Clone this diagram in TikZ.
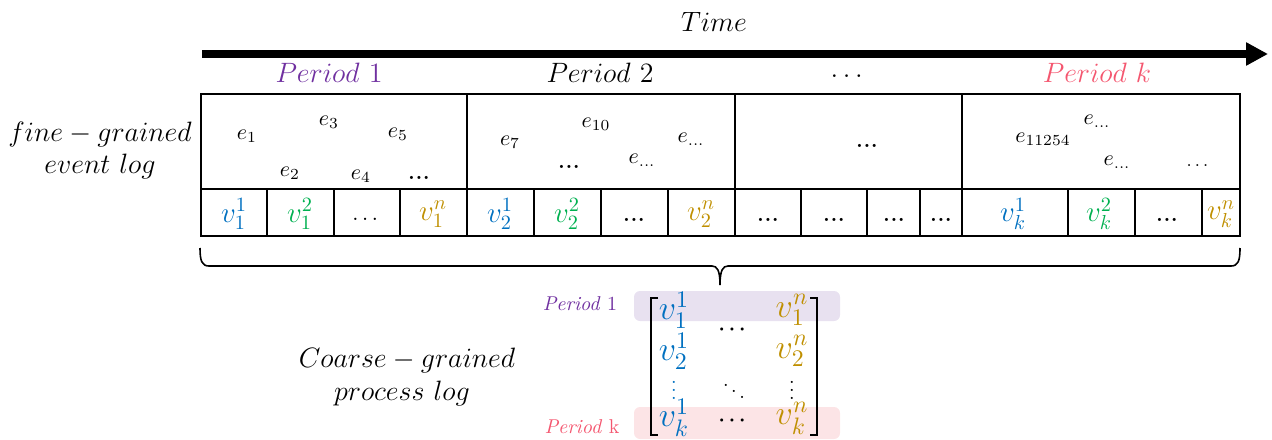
\RequirePackage{fix-cm}
\documentclass[tikz,border=0pt]{standalone}
\usepackage{amsmath}
\usetikzlibrary{arrows.meta}
\definecolor{cblue}{HTML}{0070C0}
\definecolor{cgreen}{HTML}{00B050}
\definecolor{cgold}{HTML}{BF8F00}
\definecolor{cpurple}{HTML}{7030A0}
\definecolor{cpink}{HTML}{F4566F}
\definecolor{hlpurple}{HTML}{E8E1F0}
\definecolor{hlpink}{HTML}{FCE4E6}
\newcommand{\bdots}{{\fontsize{10}{12}\selectfont\bfseries .\kern0.5pt.\kern0.5pt.}}
\begin{document}
\begin{tikzpicture}[x=0.5pt,y=-0.5pt,
  big/.style={inner sep=0pt,font=\fontsize{14}{16}\selectfont},
  ev/.style={inner sep=0pt,font=\fontsize{11}{13}\selectfont},
  vv/.style={inner sep=0pt,font=\fontsize{14.5}{16}\selectfont},
  mv/.style={inner sep=0pt,font=\fontsize{17}{19}\selectfont},
  md/.style={inner sep=0pt,font=\fontsize{10}{12}\selectfont},
  small/.style={inner sep=0pt,font=\fontsize{10}{12}\selectfont},
  grid/.style={line width=1pt},
  brk/.style={line width=1.4pt}]
\useasboundingbox (0,0) rectangle (1272,439);

% time arrow
\coordinate (ta) at (202,54);
\coordinate (tb) at (1268,54);
\draw[line width=3.8pt,-{Triangle[length=11pt,width=11pt]}] (ta) -- (tb);
\node[big] (time) at (714,22) {$Time$};

% period labels
\node[big,text=cpurple] (p1) at (329,73) {$Period\ 1$};
\node[big] (p2) at (600,73) {$Period\ 2$};
\node[big] (pdots) at (849,76) {$\dots$};
\node[big,text=cpink] (pk) at (1097,73) {$Period\ k$};

% left labels
\node[big] (fg1) at (100,134) {$fine-grained$};
\node[big] (fg2) at (100,166) {$event\ log$};

% table
\coordinate (TL) at (201,94);
\coordinate (BR) at (1240,236);
\draw[grid] (TL) rectangle (BR);
\draw[grid] (201,189) -- (1240,189);
\foreach \x in {467,735,962} \draw[grid] (\x,94) -- (\x,236);
\foreach \x in {267,334,400,534,601,668,801,867,920,1068,1135,1202} \draw[grid] (\x,189) -- (\x,236);

% events
\node[ev] (e1) at (247,136) {$e_1$};
\node[ev] (e3) at (329,122) {$e_3$};
\node[ev] (e5) at (398,134) {$e_5$};
\node[ev] (e2) at (290,173) {$e_2$};
\node[ev] (e4) at (361,176) {$e_4$};
\node[ev] (ed1) at (419,178) {\bdots};
\node[ev] (e7) at (510,142) {$e_7$};
\node[ev] (e10) at (596,124) {$e_{10}$};
\node[ev] (ed2) at (569,167) {\bdots};
\node[ev] (ex1) at (642,160) {$e_{\dots}$};
\node[ev] (ex2) at (691,139) {$e_{\dots}$};
\node[ev] (ed3) at (867,146) {\bdots};
\node[ev] (e11254) at (1043,139) {$e_{11254}$};
\node[ev] (ex3) at (1097,121) {$e_{\dots}$};
\node[ev] (ex4) at (1117,162) {$e_{\dots}$};
\node[ev,font=\fontsize{9}{11}\selectfont] (ed4) at (1199,166) {$\dots$};

% bottom row
\node[vv,text=cblue] (a1) at (234,214) {$v_1^1$};
\node[vv,text=cgreen] (a2) at (300,214) {$v_1^2$};
\node[vv,font=\fontsize{11}{13}\selectfont] (a3) at (367,219) {$\dots$};
\node[vv,text=cgold] (a4) at (433,214) {$v_1^n$};
\node[vv,text=cblue] (b1) at (500,214) {$v_2^1$};
\node[vv,text=cgreen] (b2) at (567,214) {$v_2^2$};
\node[vv] (b3) at (634,220) {\bdots};
\node[vv,text=cgold] (b4) at (701,214) {$v_2^n$};
\node[vv] (c1) at (768,220) {\bdots};
\node[vv] (c2) at (834,220) {\bdots};
\node[vv] (c3) at (894,220) {\bdots};
\node[vv] (c4) at (941,220) {\bdots};
\node[vv,text=cblue] (k1) at (1013,214) {$v_k^1$};
\node[vv,text=cgreen] (k2) at (1099,214) {$v_k^2$};
\node[vv] (k3) at (1167,220) {\bdots};
\node[vv,text=cgold] (k4) at (1221,214) {$v_k^n$};

% brace
\coordinate (brL) at (200,248);
\coordinate (brTip) at (720,285);
\coordinate (brR) at (1240,248);
\draw[line width=0.8pt] (brL) .. controls (200,261) and (202,266) .. (209,266)
  -- (712,266) .. controls (717,266) and (720,270) .. (brTip)
  .. controls (720,270) and (723,266) .. (728,266)
  -- (1231,266) .. controls (1238,266) and (1240,261) .. (brR);

% matrix highlight
\fill[hlpurple,rounded corners=3pt] (634,291) rectangle (840,321);
\fill[hlpink,rounded corners=3pt] (634,407) rectangle (840,439);

% matrix brackets
\draw[brk] (658,298) -- (651,298) -- (651,435) -- (658,435);
\draw[brk] (810,298) -- (817,298) -- (817,435) -- (810,435);

% matrix entries
\node[mv,text=cblue] (m11) at (674,310) {$v_1^1$};
\node[mv,text=cgold] (m1n) at (792,310) {$v_1^n$};
\node[md] (mcd) at (734,330) {$\boldsymbol{\cdots}$};
\node[mv,text=cblue] (m21) at (674,351) {$v_2^1$};
\node[mv,text=cgold] (m2n) at (792,351) {$v_2^n$};
\node[md,text=cblue] (mv1) at (674,384) {$\boldsymbol{\vdots}$};
\node[md] (mdd) at (734,385) {$\boldsymbol{\ddots}$};
\node[md] (mv2) at (792,384) {$\boldsymbol{\vdots}$};
\node[mv,text=cblue] (mk1) at (674,418) {$v_k^1$};
\node[md] (mkd) at (734,421) {$\boldsymbol{\cdots}$};
\node[mv,text=cgold] (mkn) at (792,418) {$v_k^n$};

\node[small,text=cpurple] (sp1) at (580,304) {\textit{Period} 1};
\node[small,text=cpink] (spk) at (582,427) {\textit{Period} k};

\node[big] (cg1) at (407,360) {$Coarse-grained$};
\node[big] (cg2) at (402,393) {$process\ log$};
\end{tikzpicture}
\end{document}
